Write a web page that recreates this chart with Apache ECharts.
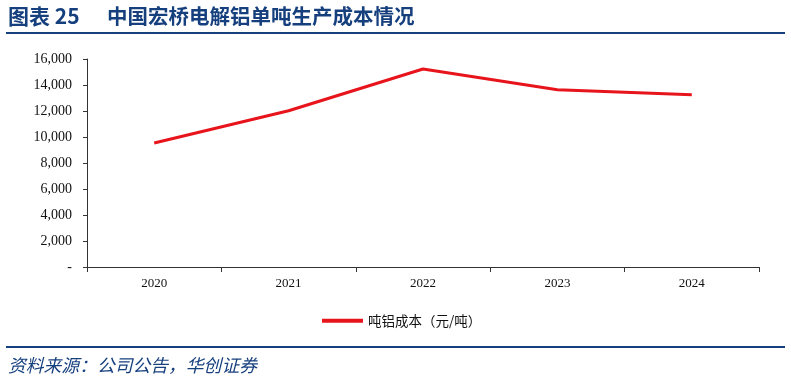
<!DOCTYPE html>
<html><head><meta charset="utf-8">
<script src="https://cdn.jsdelivr.net/npm/echarts@6/dist/echarts.min.js"></script>
<style>html,body{margin:0;padding:0;background:#fff}#c{width:791px;height:382px}</style>
</head><body><div id="c"></div>
<script>
const categories = ['2020','2021','2022','2023','2024'];
const costValues = [9540, 12020, 15230, 13640, 13250];
const seriesName = '吨铝成本（元/吨）';
const yTicks = [0, 2000, 4000, 6000, 8000, 10000, 12000, 14000, 16000];

const chart = echarts.init(document.getElementById('c'), null, {renderer:'canvas'});
const navy = '#163f7e';
chart.setOption({
  animation:false,
  backgroundColor:'#fff',
  grid:{left:87, right:32, top:59, bottom:115},
  xAxis:{type:'category', data:categories, boundaryGap:true,
    axisLine:{lineStyle:{color:'#333', width:1}},
    axisTick:{show:true, length:5, lineStyle:{color:'#333'}},
    axisLabel:{color:'#111', fontFamily:'Liberation Serif', fontSize:13, margin:10}
  },
  yAxis:{type:'value', min:yTicks[0], max:yTicks[yTicks.length-1], interval:2000,
    axisLine:{show:true, lineStyle:{color:'#333'}},
    axisTick:{show:true, length:4, lineStyle:{color:'#333'}},
    splitLine:{show:false},
    axisLabel:{color:'#111', fontFamily:'Liberation Serif', fontSize:14, margin:15,
      formatter:v => v===0 ? '-' : v.toLocaleString('en-US')}
  },
  legend:{data:[seriesName], left:317, top:309, itemWidth:41, itemHeight:4, itemGap:4,
    icon:'rect',
    textStyle:{fontFamily:'Noto Sans CJK SC', fontSize:13.5, color:'#111'}},
  series:[{name:seriesName, type:'line', data:costValues, symbol:'none',
    lineStyle:{color:'#e8141c', width:3}, itemStyle:{color:'#e8141c'}}],
  graphic:[
    {type:'text', left:8, top:6, style:{text:'图表 25', fontFamily:'Noto Sans CJK SC', fontWeight:'bold', fontSize:21, fill:navy}},
    {type:'text', left:107, top:6, style:{text:'中国宏桥电解铝单吨生产成本情况', fontFamily:'Noto Sans CJK SC', fontWeight:'bold', fontSize:20.5, fill:navy}},
    {type:'rect', shape:{x:6, y:32, width:779, height:2}, style:{fill:navy}},
    {type:'rect', shape:{x:6, y:346, width:779, height:2}, style:{fill:navy}},
    {type:'text', left:8, top:356, style:{text:'资料来源：公司公告，华创证券', fontFamily:'Noto Sans CJK SC', fontStyle:'italic', fontSize:17.8, fill:navy}}
  ]
});
</script></body></html>
